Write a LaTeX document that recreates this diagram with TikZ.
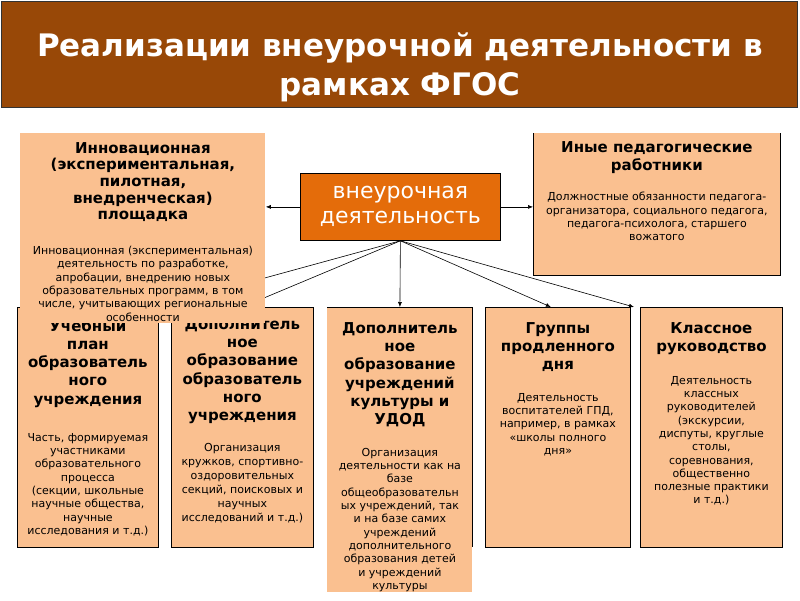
\documentclass[tikz,border=0pt]{standalone}
\usepackage{fontspec}
\setmainfont{DejaVu Sans}
\usetikzlibrary{positioning,arrows.meta}
\definecolor{titlebrown}{HTML}{984807}
\definecolor{peach}{HTML}{FAC090}
\definecolor{deeporange}{HTML}{E46C0A}

\tikzset{
  box/.style={fill=peach, draw=black, line width=0.8pt, anchor=north west, inner sep=0pt},
  head/.style={font=\fontsize{15}{16.7}\selectfont\bfseries, align=center, inner sep=0pt},
  headb/.style={head, font=\fontsize{15}{18.3}\selectfont\bfseries},
  body/.style={font=\fontsize{11}{13.3}\selectfont, align=center, inner sep=0pt},
  link/.style={-{Latex[length=5pt,width=4pt]}, line width=0.6pt},
}

\begin{document}
\begin{tikzpicture}[x=1pt,y=-1pt]
    \useasboundingbox (0,0) rectangle (800,600);

    % title bar
    \node[fill=titlebrown, draw=black!80, line width=0.6pt, anchor=north west,
          minimum width=796, minimum height=106, inner sep=0pt] (bar) at (1,1) {};
    \node[font=\fontsize{31}{39}\selectfont\bfseries, text=white, align=center]
          (ttl) at (400,67) {Реализации внеурочной деятельности в\\рамках ФГОС};

    % upper row
    \node[box, draw=none, minimum width=247, minimum height=142] (ped) at (533,133) {};
    \draw[line width=0.8pt] (ped.north west) -- (ped.south west) -- (ped.south east) -- (ped.north east);
    \node[head, font=\fontsize{15}{18.5}\selectfont\bfseries, below=8pt of ped.north] (pedH) {Иные педагогические\\работники};
    \node[body, below=59pt of ped.north] (pedB) {Должностные обязанности педагога-\\организатора, социального педагога,\\педагога-психолога, старшего\\вожатого};

    \node[box, fill=deeporange, minimum width=200, minimum height=67] (vneur) at (300,173) {};
    \node[font=\fontsize{22}{25}\selectfont, text=white, align=center] at ([yshift=1pt]vneur.center) {внеурочная\\деятельность};

    % lower row
    \node[box, minimum width=141, minimum height=240] (plan) at (17,307) {};
    \node[headb, below=12pt of plan.north] (planH) {Учебный\\план\\образователь\\ного\\учреждения};
    \node[body, below=126pt of plan.north] (planB) {Часть, формируемая\\участниками\\образовательного\\процесса\\(секции, школьные\\научные общества,\\научные\\исследования и т.д.)};

    \node[box, minimum width=142, minimum height=240] (dopobr) at (171,307) {};
    \node[headb, below=11pt of dopobr.north] (dopobrH) {Дополнитель\\ное\\образование\\образователь\\ного\\учреждения};
    \node[body, font=\fontsize{11}{14}\selectfont, below=136pt of dopobr.north] (dopobrB) {Организация\\кружков, спортивно-\\оздоровительных\\секций, поисковых и\\научных\\исследований и т.д.)};

    \node[box, draw=none, minimum width=145, minimum height=285] (udod) at (327,307) {};
    \draw[line width=0.8pt] (udod.north west) -- (udod.north east) -- ++(0,240);
    \node[headb, below=15pt of udod.north] (udodH) {Дополнитель\\ное\\образование\\учреждений\\культуры и\\УДОД};
    \node[body, below=141pt of udod.north] (udodB) {Организация\\деятельности как на\\базе\\общеобразовательн\\ых учреждений, так\\и на базе самих\\учреждений\\дополнительного\\образования детей\\и учреждений\\культуры};

    \node[box, minimum width=145, minimum height=240] (gpd) at (485,307) {};
    \node[headb, below=15pt of gpd.north] (gpdH) {Группы\\продленного\\дня};
    \node[body, below=86pt of gpd.north] (gpdB) {Деятельность\\воспитателей ГПД,\\например, в рамках\\«школы полного\\дня»};

    \node[box, minimum width=142, minimum height=240] (klass) at (640,307) {};
    \node[headb, below=15pt of klass.north] (klassH) {Классное\\руководство};
    \node[body, below=69pt of klass.north] (klassB) {Деятельность\\классных\\руководителей\\(экскурсии,\\диспуты, круглые\\столы,\\соревнования,\\общественно\\полезные практики\\и т.д.)};

    \draw[link] (vneur.south) -- (plan.north east);
    \draw[link] (vneur.south) -- (dopobr.north);
    \draw[link] (vneur.south) -- (udod.north);
    \draw[link] (vneur.south) -- ([xshift=-7pt]gpd.north);
    \draw[link] (vneur.south) -- ([xshift=-6pt]klass.north west);

    % innovation box on top
    \node[box, draw=none, minimum width=245, minimum height=190] (innov) at (20,133) {};
    \node[head, below=9pt of innov.north] (innovH) {Инновационная\\(экспериментальная,\\пилотная,\\внедренческая)\\площадка};
    \node[body, below=113pt of innov.north] (innovB) {Инновационная (экспериментальная)\\деятельность по разработке,\\апробации, внедрению новых\\образовательных программ, в том\\числе, учитывающих региональные\\особенности};

    \draw[link] (vneur.west) -- (vneur.west -| innov.east);
    \draw[link] (vneur.east) -- (vneur.east -| ped.west);
\end{tikzpicture}
\end{document}
